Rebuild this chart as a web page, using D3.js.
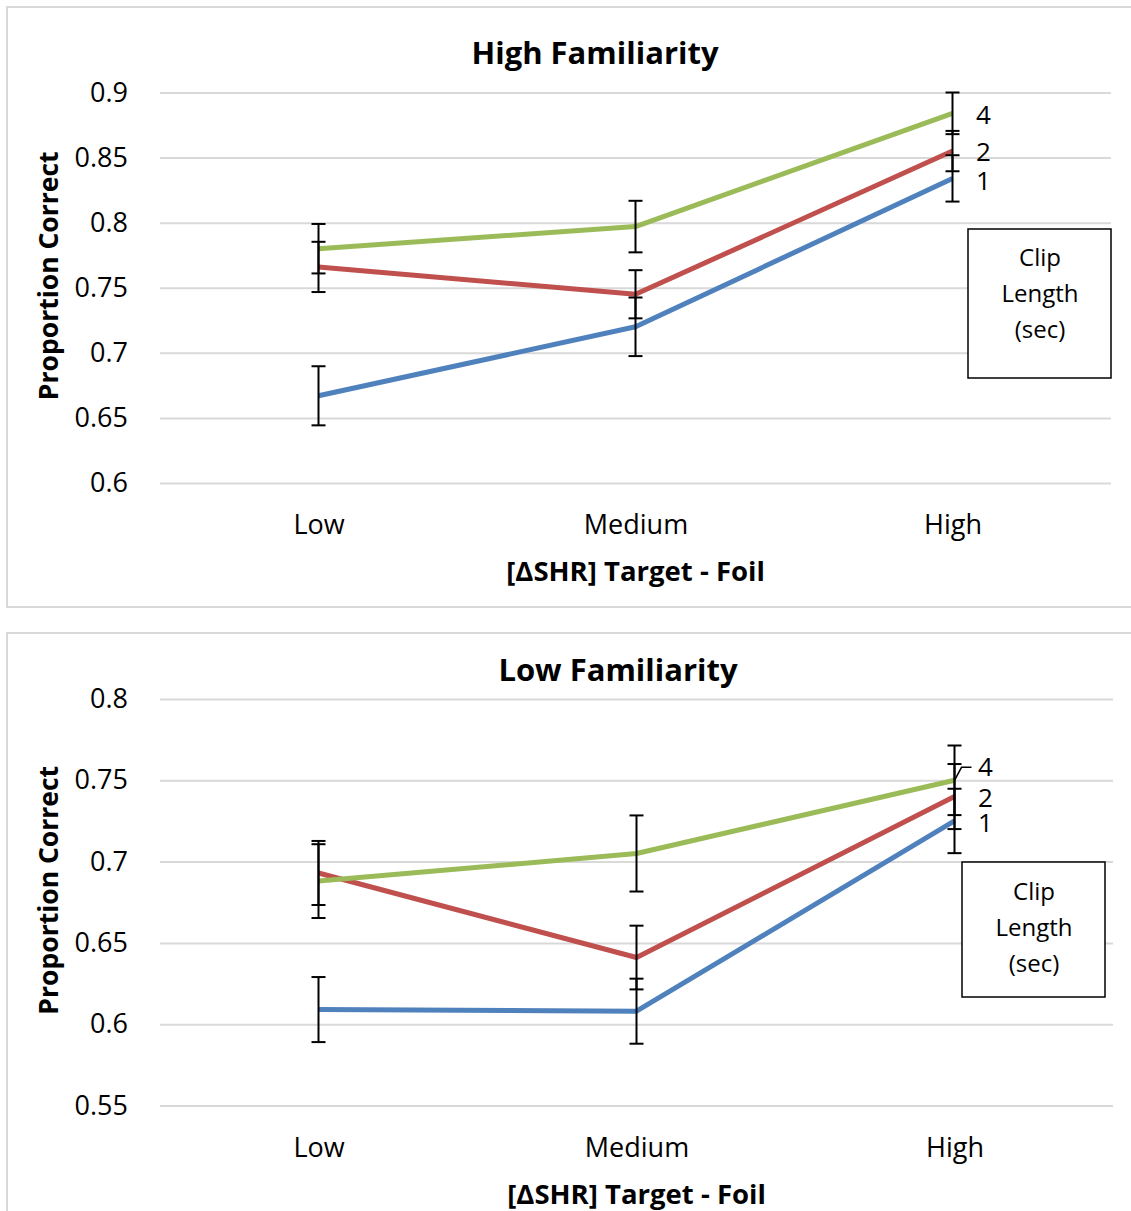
<!DOCTYPE html>
<html>
<head>
<meta charset="utf-8">
<script src="https://cdn.jsdelivr.net/npm/d3@7"></script>
<style>
  body { margin: 0; background: #fff; }
  svg { display: block; font-family: "Open Sans", sans-serif; }
</style>
</head>
<body>
<script>
let w = 1131;
let h = 1211;

let categories = ["Low", "Medium", "High"];
let clipLengths = ["1", "2", "4"];
let colors = ["#4f81bd", "#c0504d", "#9bbb59"];

// High familiarity: means and error bars per clip length (1, 2, 4 sec)
let highMeans1 = [0.667, 0.720, 0.834];
let highMeans2 = [0.766, 0.745, 0.855];
let highMeans4 = [0.780, 0.797, 0.884];
let highErr1 = [0.0227, 0.0225, 0.0178];
let highErr2 = [0.0193, 0.0185, 0.0155];
let highErr4 = [0.0190, 0.0198, 0.0160];
let highTicks = [0.6, 0.65, 0.7, 0.75, 0.8, 0.85, 0.9];

// Low familiarity
let lowMeans1 = [0.609, 0.608, 0.725];
let lowMeans2 = [0.693, 0.641, 0.740];
let lowMeans4 = [0.688, 0.705, 0.750];
let lowErr1 = [0.0200, 0.0200, 0.0198];
let lowErr2 = [0.0197, 0.0196, 0.0200];
let lowErr4 = [0.0227, 0.0234, 0.0214];
let lowTicks = [0.55, 0.6, 0.65, 0.7, 0.75, 0.8];

let svg = d3.select("body")
  .append("svg")
  .attr("width", w)
  .attr("height", h);

function drawPanel(p) {
  let g = svg.append("g");

  g.append("rect")
    .attr("x", 7)
    .attr("y", p.frameTop)
    .attr("width", 1140)
    .attr("height", p.frameHeight)
    .attr("fill", "none")
    .attr("stroke", "#d9d9d9")
    .attr("stroke-width", 2);

  let xScale = d3.scalePoint().domain(categories).range([p.left + p.band / 2, p.right - p.band / 2]);
  let yScale = d3.scaleLinear().domain([p.ticks[0], p.ticks[p.ticks.length - 1]]).range([p.bottom, p.top]);

  // gridlines
  g.append("g")
    .attr("transform", "translate(" + p.left + ",0)")
    .call(d3.axisLeft(yScale).tickValues(p.ticks).tickSize(-(p.right - p.left)).tickFormat(""))
    .call(a => a.select(".domain").remove())
    .call(a => a.selectAll("line").attr("stroke", "#d9d9d9").attr("stroke-width", 2));

  // y tick labels
  g.append("g")
    .attr("transform", "translate(" + p.left + ",0)")
    .call(d3.axisLeft(yScale).tickValues(p.ticks).tickSize(0).tickPadding(32).tickFormat(d => String(d)))
    .call(a => a.select(".domain").remove())
    .call(a => a.selectAll("text")
      .attr("font-family", "Open Sans")
      .attr("font-size", 27)
      .attr("fill", "#000"));

  // x tick labels
  g.append("g")
    .attr("transform", "translate(0," + p.bottom + ")")
    .call(d3.axisBottom(xScale).tickSize(0).tickPadding(32))
    .call(a => a.select(".domain").remove())
    .call(a => a.selectAll("text")
      .attr("font-family", "Open Sans")
      .attr("font-size", 27)
      .attr("fill", "#000"));

  let line = d3.line()
    .x((d, i) => xScale(categories[i]))
    .y(d => yScale(d));

  p.means.forEach(function(series, s) {
    g.append("path")
      .datum(series)
      .attr("d", line)
      .attr("fill", "none")
      .attr("stroke", colors[s])
      .attr("stroke-width", 5)
      .attr("stroke-linejoin", "round");
  });

  // error bars drawn on top of the lines
  p.means.forEach(function(series, s) {
    let bars = g.append("g").selectAll("g")
      .data(series)
      .enter()
      .append("g")
      .attr("stroke", "#000")
      .attr("stroke-width", 2);
    bars.append("line")
      .attr("x1", (d, i) => xScale(categories[i]))
      .attr("x2", (d, i) => xScale(categories[i]))
      .attr("y1", (d, i) => yScale(d - p.errs[s][i]))
      .attr("y2", (d, i) => yScale(d + p.errs[s][i]));
    [-1, 1].forEach(function(sign) {
      bars.append("line")
        .attr("x1", (d, i) => xScale(categories[i]) - 7)
        .attr("x2", (d, i) => xScale(categories[i]) + 7)
        .attr("y1", (d, i) => yScale(d + sign * p.errs[s][i]))
        .attr("y2", (d, i) => yScale(d + sign * p.errs[s][i]));
    });
  });

  // series labels at the right end
  p.means.forEach(function(series, s) {
    g.append("text")
      .attr("x", xScale("High") + 31)
      .attr("y", yScale(series[2]) + p.labelShift[s])
      .attr("dy", "0.35em")
      .attr("text-anchor", "middle")
      .attr("font-size", 26)
      .text(clipLengths[s]);
  });
  if (p.leader) {
    let gx = xScale("High");
    let gy = yScale(p.means[2][2]);
    g.append("path")
      .attr("d", "M" + gx + "," + gy + "L" + (gx + 7) + "," + (gy + p.labelShift[2]) + "H" + (gx + 17))
      .attr("fill", "none")
      .attr("stroke", "#000")
      .attr("stroke-width", 1.5);
  }

  // legend box
  g.append("rect")
    .attr("x", p.legendX)
    .attr("y", p.legendY)
    .attr("width", 143)
    .attr("height", p.legendH)
    .attr("fill", "#fff")
    .attr("stroke", "#000")
    .attr("stroke-width", 1.5);
  ["Clip", "Length", "(sec)"].forEach(function(t, i) {
    g.append("text")
      .attr("x", p.legendX + 72)
      .attr("y", p.legendY + p.legendPad + i * 36)
      .attr("dy", "0.35em")
      .attr("text-anchor", "middle")
      .attr("font-size", 24)
      .text(t);
  });

  // titles
  g.append("text")
    .attr("x", p.titleX)
    .attr("y", p.titleY)
    .attr("text-anchor", "middle")
    .attr("font-size", 31)
    .attr("font-weight", "bold")
    .text(p.title);

  g.append("text")
    .attr("transform", "translate(58," + ((p.top + p.bottom) / 2 - 12) + ") rotate(-90)")
    .attr("text-anchor", "middle")
    .attr("font-size", 26.5)
    .attr("font-weight", "bold")
    .text("Proportion Correct");

  g.append("text")
    .attr("x", xScale("Medium"))
    .attr("y", p.bottom + 98)
    .attr("text-anchor", "middle")
    .attr("font-size", 27.5)
    .attr("font-weight", "bold")
    .text("[ΔSHR] Target - Foil");
}

drawPanel({
  frameTop: 7, frameHeight: 600,
  left: 160, right: 1111, band: 317, top: 92.5, bottom: 483,
  ticks: highTicks,
  means: [highMeans1, highMeans2, highMeans4],
  errs: [highErr1, highErr2, highErr4],
  labelShift: [2, 1, 2],
  leader: false,
  legendX: 968, legendY: 229, legendH: 149, legendPad: 29,
  title: "High Familiarity", titleX: 595, titleY: 64
});

drawPanel({
  frameTop: 633, frameHeight: 600,
  left: 160, right: 1113, band: 317, top: 699, bottom: 1105.5,
  ticks: lowTicks,
  means: [lowMeans1, lowMeans2, lowMeans4],
  errs: [lowErr1, lowErr2, lowErr4],
  labelShift: [2, 1, -13],
  leader: true,
  legendX: 962, legendY: 862, legendH: 135, legendPad: 30,
  title: "Low Familiarity", titleX: 618, titleY: 681
});
</script>
</body>
</html>
